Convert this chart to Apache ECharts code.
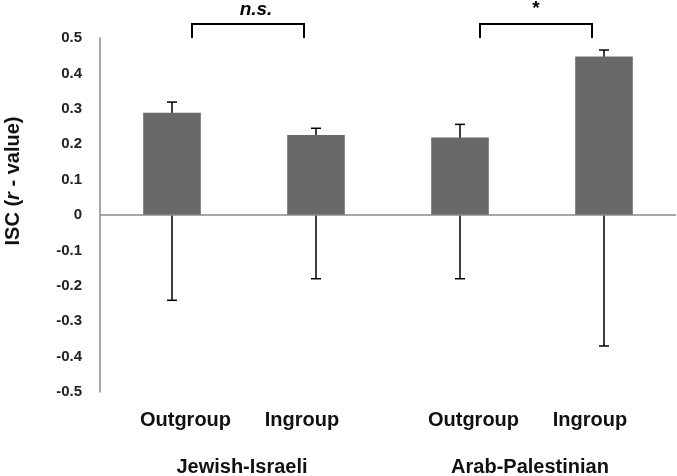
<!DOCTYPE html>
<html>
<head>
<meta charset="utf-8">
<script src="https://cdn.jsdelivr.net/npm/echarts@6/dist/echarts.min.js"></script>
<style>html,body{margin:0;padding:0;background:#fff;}#c{width:677px;height:476px;}</style>
</head>
<body>
<div id="c"></div>
<script>
var categories = ['Outgroup', 'Ingroup', 'Outgroup', 'Ingroup'];
var groups = ['Jewish-Israeli', 'Arab-Palestinian'];
var means = [0.289, 0.226, 0.219, 0.448];
var upper = [0.319, 0.245, 0.256, 0.466];
var lower = [-0.241, -0.18, -0.18, -0.37];
var yTicks = [-0.5, 0.5, 0.1];
var brackets = [
  {from: 0, to: 1, label: 'n.s.', italic: true},
  {from: 2, to: 3, label: '*', italic: false}
];

var chart = echarts.init(document.getElementById('c'));
var FONT = '"Liberation Sans", Arial, sans-serif';
var axisIds = categories.map(function (c, i) { return groups[Math.floor(i / 2)] + ' ' + c; });

chart.setOption({
  animation: false,
  backgroundColor: '#ffffff',
  grid: {left: 100, right: 1, top: 38, bottom: 84},
  xAxis: {
    type: 'category',
    data: axisIds,
    axisLine: {show: false, onZero: false},
    axisTick: {show: false},
    axisLabel: {
      margin: 18,
      formatter: function (v, i) {
        return i % 2 === 0 ? '{o|' + categories[i] + '}' : '{n|' + categories[i] + '}';
      },
      rich: {
        o: {fontFamily: FONT, fontWeight: 'bold', fontSize: 20, color: '#111', padding: [0, 0, 0, 27]},
        n: {fontFamily: FONT, fontWeight: 'bold', fontSize: 20, color: '#111', padding: [0, 28, 0, 0]}
      }
    }
  },
  yAxis: {
    type: 'value',
    min: yTicks[0],
    max: yTicks[1],
    interval: yTicks[2],
    splitLine: {show: false},
    axisTick: {show: false},
    axisLine: {show: true, lineStyle: {color: '#8a8a8a', width: 1.5}},
    axisLabel: {
      margin: 18,
      fontFamily: FONT, fontWeight: 'bold', fontSize: 15, color: '#222',
      formatter: function (v) { return String(Math.round(v * 10) / 10); }
    }
  },
  series: [
    {
      type: 'custom',
      z: 1,
      data: means.map(function (m, i) { return [i, lower[i], upper[i]]; }),
      renderItem: function (params, api) {
        var x = api.coord([api.value(0), 0])[0];
        var yl = api.coord([api.value(0), api.value(1)])[1];
        var yu = api.coord([api.value(0), api.value(2)])[1];
        var s = {stroke: '#000', lineWidth: 1.5};
        return {
          type: 'group',
          children: [
            {type: 'line', shape: {x1: x, y1: yl, x2: x, y2: yu}, style: s},
            {type: 'line', shape: {x1: x - 5, y1: yl, x2: x + 5, y2: yl}, style: s},
            {type: 'line', shape: {x1: x - 5, y1: yu, x2: x + 5, y2: yu}, style: s}
          ]
        };
      }
    },
    {
      type: 'bar',
      z: 2,
      data: means,
      barWidth: '40%',
      itemStyle: {color: '#686868'},
      markLine: {
        silent: true,
        symbol: ['none', 'none'],
        label: {show: false},
        lineStyle: {color: '#8a8a8a', width: 1.5, type: 'solid'},
        data: [{yAxis: 0}]
      }
    }
  ]
});

function px(i, v) { return chart.convertToPixel({gridIndex: 0}, [axisIds[i], v]); }

var g = [];
var yTop = 24, yBot = 38;
brackets.forEach(function (b) {
  var x1 = px(b.from, 0)[0] + 20;
  var x2 = px(b.to, 0)[0] - 12;
  g.push({
    type: 'polyline',
    shape: {points: [[x1, yBot], [x1, yTop], [x2, yTop], [x2, yBot]]},
    style: {stroke: '#000', lineWidth: 2, fill: null}
  });
  g.push({
    type: 'text',
    x: (x1 + x2) / 2 + (b.italic ? 8 : 0), y: b.italic ? 10 : 9,
    style: {
      text: b.label, align: 'center', verticalAlign: 'middle',
      font: (b.italic ? 'italic ' : '') + 'bold 19px ' + FONT, fill: '#000'
    }
  });
});
groups.forEach(function (name, k) {
  var xa = px(2 * k, 0)[0], xb = px(2 * k + 1, 0)[0];
  g.push({
    type: 'text',
    x: (xa + xb) / 2 - 2, y: 467,
    style: {text: name, align: 'center', verticalAlign: 'middle', font: 'bold 20px ' + FONT, fill: '#111'}
  });
});
g.push({
  type: 'text',
  x: 13, y: 181,
  rotation: Math.PI / 2,
  style: {
    text: '{b|ISC (}{i|r}{b| - value)}',
    align: 'center', verticalAlign: 'middle',
    rich: {
      b: {fontFamily: FONT, fontWeight: 'bold', fontSize: 20, fill: '#111', color: '#111'},
      i: {fontFamily: FONT, fontWeight: 'bold', fontStyle: 'italic', fontSize: 20, fill: '#111', color: '#111'}
    }
  }
});
chart.setOption({graphic: {elements: g}});
</script>
</body>
</html>
